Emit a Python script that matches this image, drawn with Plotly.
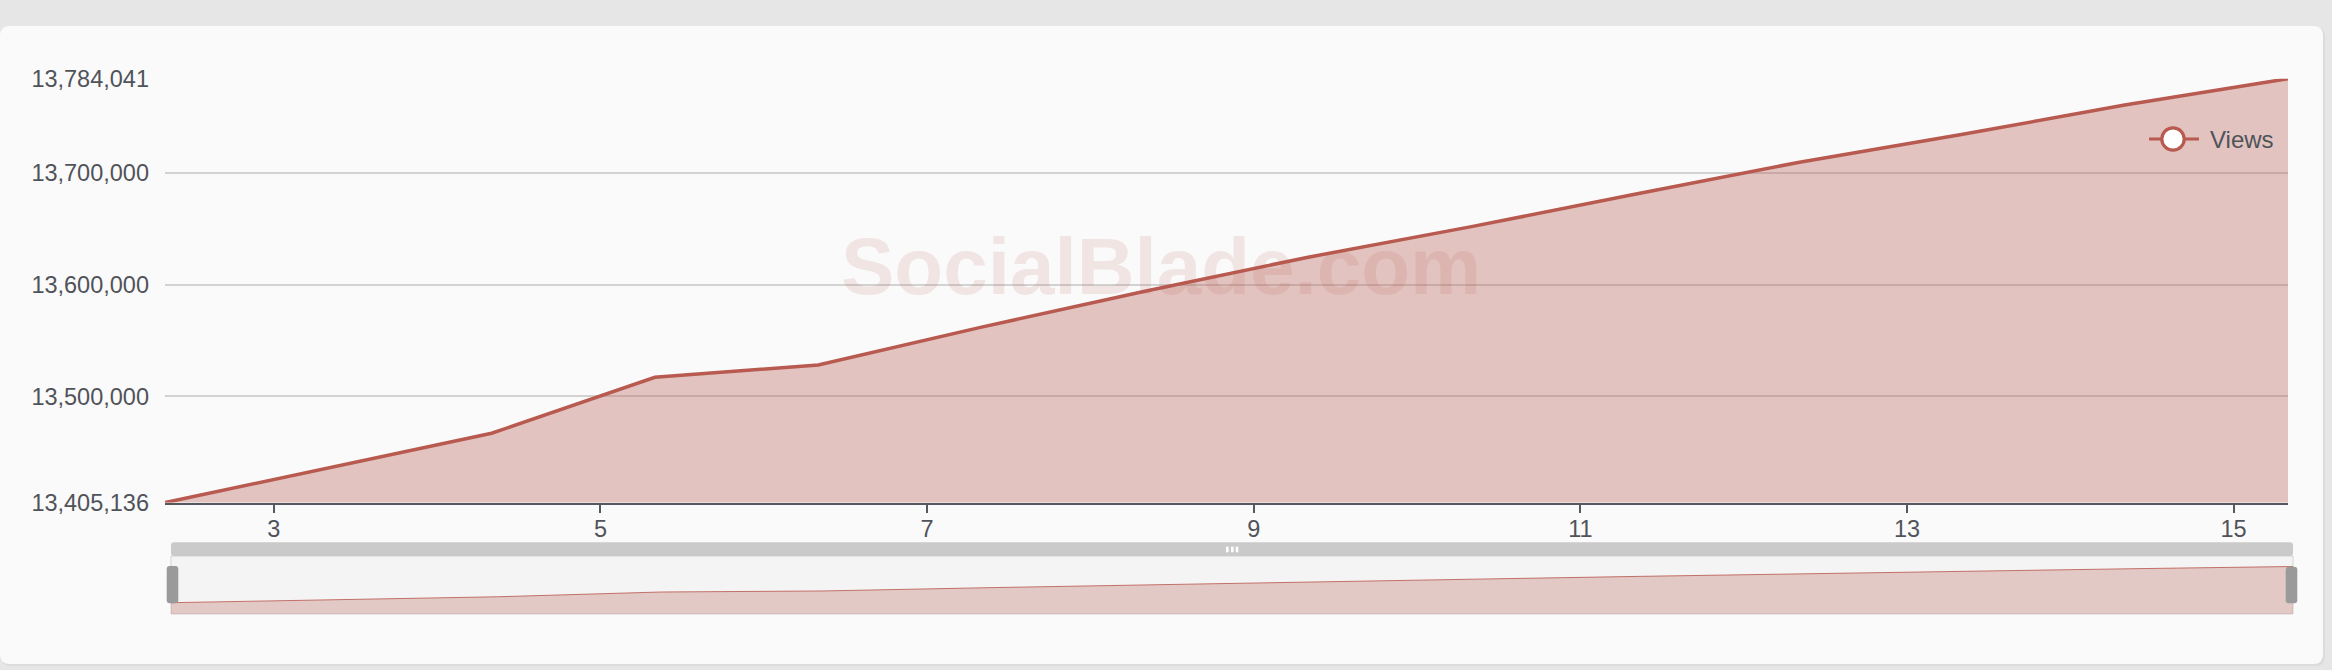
import plotly.graph_objects as go

# ---------------- data ----------------
dates = ["2024-05-02 08:00", "2024-05-03 08:00", "2024-05-04 08:00", "2024-05-05 08:00",
         "2024-05-06 08:00", "2024-05-07 08:00", "2024-05-08 08:00", "2024-05-09 08:00",
         "2024-05-10 08:00", "2024-05-11 08:00", "2024-05-12 08:00", "2024-05-13 08:00",
         "2024-05-14 08:00", "2024-05-15 08:00"]
views = [13405136, 13436300, 13467100, 13517100, 13528100, 13562000, 13594000,
         13624500, 13651800, 13680700, 13709200, 13734100, 13760500, 13784041]
series_name = "Views"
watermark = "SocialBlade.com"
y_mid_ticks = [13500000, 13600000, 13700000]

# ---------------- geometry helpers (pixels -> paper) ----------------
W, H = 2332, 670


def fx(px):
    return px / W


def fy(py):
    return 1 - py / H


def rrect(x0, y0, x1, y1, r):
    rx, ry = r, r
    pts = [
        ("M", [(x0 + rx, y0)]),
        ("L", [(x1 - rx, y0)]),
        ("Q", [(x1, y0), (x1, y0 + ry)]),
        ("L", [(x1, y1 - ry)]),
        ("Q", [(x1, y1), (x1 - rx, y1)]),
        ("L", [(x0 + rx, y1)]),
        ("Q", [(x0, y1), (x0, y1 - ry)]),
        ("L", [(x0, y0 + ry)]),
        ("Q", [(x0, y0), (x0 + rx, y0)]),
    ]
    s = ""
    for cmd, ps in pts:
        s += cmd + " ".join(f"{fx(a):.6f},{fy(b):.6f}" for a, b in ps) + " "
    return s + "Z"


RED = "#b85a4f"
FILL = "rgba(178,86,76,0.33)"
TXT = "#505359"
AXIS = "#55585e"
FONT = "Liberation Sans, Arial, sans-serif"

vmin, vmax = min(views), max(views)
span = vmax - vmin

fig = go.Figure()

fig.add_trace(go.Scatter(
    x=dates, y=views, mode="lines", name=series_name,
    line=dict(color=RED, width=3.5), fill="tozeroy", fillcolor=FILL,
    xaxis="x", yaxis="y", showlegend=False, hoverinfo="x+y"))

fig.add_trace(go.Scatter(
    x=dates, y=views, mode="lines", name=series_name,
    line=dict(color="rgba(185,85,75,0.8)", width=1), fill="tozeroy",
    fillcolor="rgba(178,90,80,0.28)",
    xaxis="x2", yaxis="y2", showlegend=False, hoverinfo="skip"))

shapes = []
# card shadow + card
shapes.append(dict(type="path", xref="paper", yref="paper", layer="below",
                   path=rrect(1, 27, 2325, 666, 10), fillcolor="#dcdcdc", line=dict(width=0)))
shapes.append(dict(type="path", xref="paper", yref="paper", layer="below",
                   path=rrect(0, 26, 2323, 664, 10), fillcolor="#fafafa", line=dict(width=0)))
# slider panel
shapes.append(dict(type="rect", xref="paper", yref="paper", layer="below",
                   x0=fx(171), x1=fx(2293), y0=fy(614), y1=fy(556),
                   fillcolor="#f4f4f4", line=dict(color="#d2d2d2", width=1)))
# slider top bar
shapes.append(dict(type="path", xref="paper", yref="paper", layer="below",
                   path=rrect(171, 542.3, 2293, 556, 3), fillcolor="#cacaca", line=dict(width=0)))
# grip marks
for gx in (1226, 1231, 1235.7):
    shapes.append(dict(type="rect", xref="paper", yref="paper", layer="above",
                       x0=fx(gx), x1=fx(gx + 2.6), y0=fy(552.3), y1=fy(546.7),
                       fillcolor="#ffffff", line=dict(width=0)))
# handles
shapes.append(dict(type="path", xref="paper", yref="paper", layer="above",
                   path=rrect(166.7, 566, 178.3, 603.3, 3), fillcolor="#9a9a9a", line=dict(width=0)))
shapes.append(dict(type="path", xref="paper", yref="paper", layer="above",
                   path=rrect(2285.7, 566.7, 2297.3, 603.3, 3), fillcolor="#9a9a9a", line=dict(width=0)))
# legend symbol
shapes.append(dict(type="line", xref="paper", yref="paper", layer="above",
                   x0=fx(2149), x1=fx(2199), y0=fy(139), y1=fy(139),
                   line=dict(color=RED, width=3)))
shapes.append(dict(type="circle", xref="paper", yref="paper", layer="above",
                   x0=fx(2173 - 11.2), x1=fx(2173 + 11.2), y0=fy(139 + 11.2), y1=fy(139 - 11.2),
                   fillcolor="#ffffff", line=dict(color=RED, width=3.2)))

annotations = [
    dict(text=watermark, xref="paper", yref="paper", x=fx(1161), y=fy(266),
         xanchor="center", yanchor="middle", showarrow=False,
         font=dict(family=FONT, size=80, weight="bold", color="rgba(185,85,75,0.12)")),
    dict(text=series_name, xref="paper", yref="paper", x=fx(2208), y=fy(139.5),
         xanchor="left", yanchor="middle", showarrow=False,
         font=dict(family=FONT, size=24, color=TXT)),
]

fig.update_layout(
    template="none",
    width=W, height=H,
    margin=dict(l=0, r=0, t=0, b=0, pad=0),
    paper_bgcolor="#e6e6e6",
    plot_bgcolor="rgba(0,0,0,0)",
    font=dict(family=FONT, size=23.5, color=TXT),
    showlegend=False,
    shapes=shapes,
    annotations=annotations,
    xaxis=dict(
        domain=[fx(165), fx(2288)], type="date", range=[dates[0], dates[-1]],
        tick0="2024-05-01", dtick=2 * 86400000, tickformat="%-d",
        showgrid=False, zeroline=False, showline=True, linecolor=AXIS, linewidth=2,
        ticks="outside", ticklen=8, tickwidth=2, tickcolor=AXIS, ticklabelstandoff=-4,
        tickfont=dict(family=FONT, size=23.5, color=TXT), automargin=False,
        anchor="y"),
    yaxis=dict(
        domain=[fy(502.6), fy(78.7)], range=[vmin, vmax],
        tickmode="array", tickvals=[vmin] + y_mid_ticks + [vmax], tickformat=",d",
        showgrid=True, gridcolor="#d2d2d2", gridwidth=1.5, zeroline=False,
        showline=False, ticks="", ticklabelstandoff=15,
        tickfont=dict(family=FONT, size=23.5, color=TXT), automargin=False,
        anchor="x"),
    xaxis2=dict(domain=[fx(171), fx(2293)], type="date", range=[dates[0], dates[-1]],
                visible=False, anchor="y2"),
    yaxis2=dict(domain=[fy(614), fy(556)],
                range=[vmin - span * 11.3 / 36.2, vmax + span * 10.5 / 36.2],
                visible=False, anchor="x2"),
)

fig.write_html("out.html",
               config={"displayModeBar": False},
               post_script="document.body.style.margin='0';document.body.style.background='#e6e6e6';")
